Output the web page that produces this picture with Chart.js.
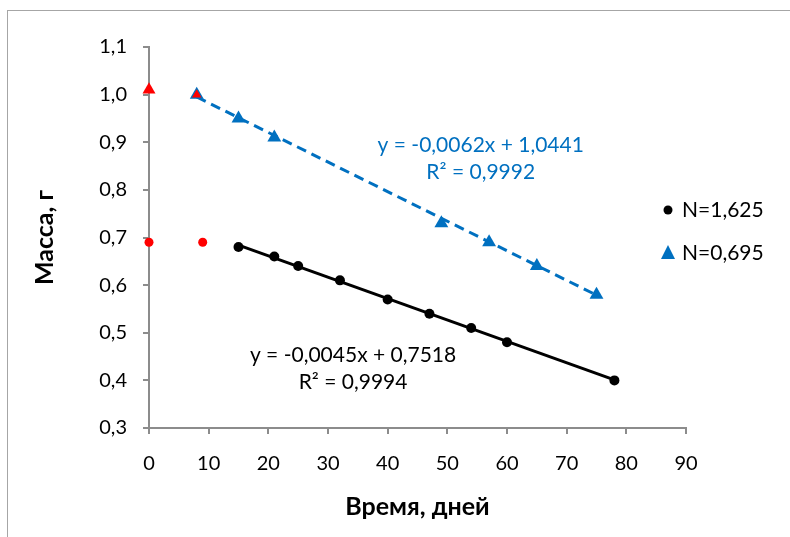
<!DOCTYPE html>
<html>
<head>
<meta charset="utf-8">
<script src="https://cdn.jsdelivr.net/npm/chart.js@4.4.1/dist/chart.umd.min.js"></script>
<style>
  body { margin: 0; background: #fff; }
  #wrap { width: 790px; height: 537px; }
</style>
</head>
<body>
<div id="wrap"><canvas id="massChart" width="790" height="537"></canvas></div>
<script>
// days / mass readings
const blackDays = [15, 21, 25, 32, 40, 47, 54, 60, 78];
const blackMass = [0.68, 0.66, 0.64, 0.61, 0.57, 0.54, 0.51, 0.48, 0.40];
const blueDays = [8, 15, 21, 49, 57, 65, 75];
const blueMass = [1.00, 0.95, 0.91, 0.73, 0.69, 0.64, 0.58];
const redDotDays = [0, 9];
const redDotMass = [0.69, 0.69];
const redTriDays = [0, 8];
const redTriMass = [1.01, 1.00];
// trendline ends as seen on the chart
const blackTrendDays = [15, 78];
const blackTrendMass = [0.684, 0.401];
const blueTrendDays = [8, 75];
const blueTrendMass = [0.995, 0.579];

const xTicks = [0, 10, 20, 30, 40, 50, 60, 70, 80, 90];
const yTicks = [0.3, 0.4, 0.5, 0.6, 0.7, 0.8, 0.9, 1.0, 1.1];

const legendNames = ['N=1,625', 'N=0,695'];
const blueEq = ['y = -0,0062x + 1,0441', 'R² = 0,9992'];
const blackEq = ['y = -0,0045x + 0,7518', 'R² = 0,9994'];

const FONT = 'Lato, "Open Sans", sans-serif';
const BLUE = '#0070C0';
const AXIS = '#8c8c8c';

const toPoints = (xs, ys) => xs.map((x, i) => ({ x: x, y: ys[i] }));

const frameAndText = {
  id: 'frameAndText',
  afterDraw(chart) {
    const ctx = chart.ctx;
    const xs = chart.scales.x;
    const ys = chart.scales.y;
    ctx.save();
    // outer frame
    ctx.strokeStyle = '#a6a6a6';
    ctx.lineWidth = 1;
    ctx.strokeRect(7.5, 10.5, 900, 600);

    // trendline equations
    ctx.font = '21px ' + FONT;
    ctx.textAlign = 'center';
    ctx.textBaseline = 'middle';
    ctx.fillStyle = BLUE;
    ctx.fillText(blueEq[0], xs.getPixelForValue(55.6), ys.getPixelForValue(0.894));
    ctx.fillText(blueEq[1], xs.getPixelForValue(55.6), ys.getPixelForValue(0.837));
    ctx.fillStyle = '#000';
    ctx.fillText(blackEq[0], xs.getPixelForValue(34.2), ys.getPixelForValue(0.453));
    ctx.fillText(blackEq[1], xs.getPixelForValue(34.2), ys.getPixelForValue(0.396));

    // legend
    ctx.textAlign = 'left';
    ctx.fillStyle = '#000';
    ctx.beginPath();
    ctx.arc(668, 210, 4.5, 0, Math.PI * 2);
    ctx.fill();
    ctx.fillText(legendNames[0], 682, 210);
    ctx.fillStyle = BLUE;
    ctx.beginPath();
    ctx.moveTo(668, 245);
    ctx.lineTo(675, 259);
    ctx.lineTo(661, 259);
    ctx.closePath();
    ctx.fill();
    ctx.fillStyle = '#000';
    ctx.fillText(legendNames[1], 682, 253);
    ctx.restore();
  }
};

new Chart(document.getElementById('massChart'), {
  type: 'scatter',
  data: {
    datasets: [
      {
        label: 'red triangles',
        data: toPoints(redTriDays, redTriMass),
        pointStyle: 'triangle',
        pointRadius: [7.5, 5.5],
        backgroundColor: '#FF0000',
        borderWidth: 0
      },
      {
        label: 'red dots',
        data: toPoints(redDotDays, redDotMass),
        pointRadius: 4.5,
        backgroundColor: '#FF0000',
        borderWidth: 0
      },
      {
        label: legendNames[0],
        data: toPoints(blackDays, blackMass),
        pointRadius: 5,
        backgroundColor: '#000',
        borderWidth: 0
      },
      {
        label: legendNames[1],
        data: toPoints(blueDays, blueMass),
        pointStyle: 'triangle',
        pointRadius: 8,
        backgroundColor: BLUE,
        borderWidth: 0
      },
      {
        label: 'black trend',
        data: toPoints(blackTrendDays, blackTrendMass),
        showLine: true,
        borderColor: '#000',
        borderWidth: 3,
        pointRadius: 0
      },
      {
        label: 'blue trend',
        data: toPoints(blueTrendDays, blueTrendMass),
        showLine: true,
        borderColor: BLUE,
        borderWidth: 3,
        borderDash: [10, 6],
        pointRadius: 0
      }
    ]
  },
  options: {
    responsive: false,
    animation: false,
    clip: false,
    layout: { padding: { top: 47, right: 104, left: 0, bottom: 0 } },
    plugins: {
      legend: { display: false },
      tooltip: { enabled: false }
    },
    scales: {
      x: {
        type: 'linear',
        min: 0,
        max: 90,
        afterFit: (scale) => { scale.height = 109; },
        afterBuildTicks: (scale) => { scale.ticks = xTicks.map((v) => ({ value: v })); },
        border: { color: AXIS, width: 2 },
        grid: { drawOnChartArea: false, color: AXIS, lineWidth: 2, tickLength: 6 },
        ticks: { color: '#000', padding: 18, font: { family: FONT, size: 20 } },
        title: {
          display: true,
          text: 'Время, дней',
          color: '#000',
          font: { family: FONT, size: 25, weight: 'bold' },
          padding: { top: 0, bottom: 15 }
        }
      },
      y: {
        min: 0.3,
        max: 1.1,
        afterFit: (scale) => { scale.width = 149; },
        afterBuildTicks: (scale) => { scale.ticks = yTicks.map((v) => ({ value: v })); },
        border: { color: AXIS, width: 2 },
        grid: { drawOnChartArea: false, color: AXIS, lineWidth: 2, tickLength: 6 },
        ticks: {
          color: '#000',
          padding: 16,
          font: { family: FONT, size: 20 },
          callback: (v) => v.toFixed(1).replace('.', ',')
        },
        title: {
          display: true,
          text: 'Масса, г',
          color: '#000',
          font: { family: FONT, size: 25, weight: 'bold' },
          padding: { top: 30, bottom: 0 }
        }
      }
    }
  },
  plugins: [frameAndText]
});
</script>
</body>
</html>
